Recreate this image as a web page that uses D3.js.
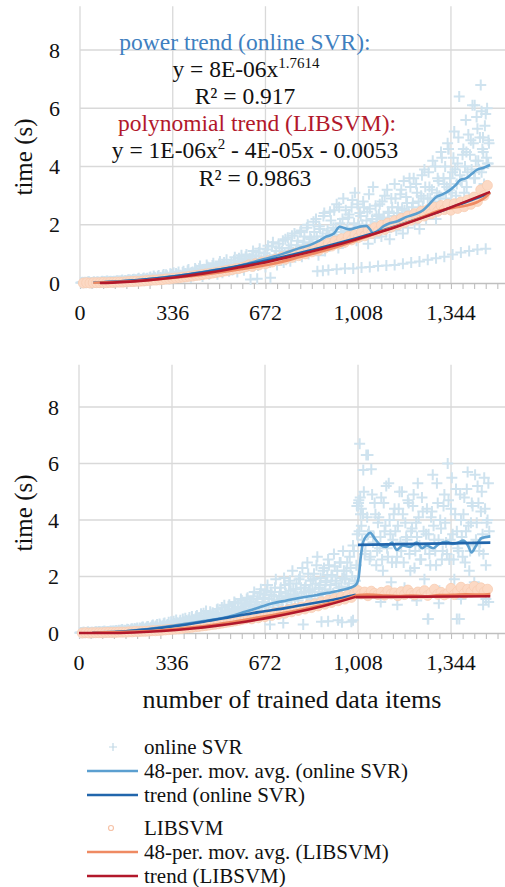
<!DOCTYPE html>
<html><head><meta charset="utf-8">
<script src="https://cdn.jsdelivr.net/npm/d3@7"></script>
<style>body{margin:0;background:#fff}svg{display:block}</style>
</head><body><svg id="c" width="505" height="887" font-family="'Liberation Serif', 'DejaVu Serif', serif"></svg>
<script>
// ---------- DATA ----------
const xTicks = [0, 336, 672, 1008, 1344];
const yTicks = [0, 2, 4, 6, 8];
const svrStep = 6;   // online SVR samples every 6 items (two interleaved arrays)
const libStep = 12;  // LIBSVM samples every 12 items

// Top chart – online SVR time (s), items 6,12,...
const svrTop = [
0.02,0.01,0.03,0.02,0.04,0.01,0.02,0.03,0.02,0.03,
0.03,0.02,0.05,0.03,0.04,0.06,0.02,0.05,0.04,0.03,
0.05,0.07,0.04,0.06,0.09,0.05,0.08,0.06,0.1,0.07,
0.08,0.12,0.07,0.1,0.14,0.09,0.11,0.15,0.08,0.13,
0.12,0.18,0.1,0.15,0.2,0.13,0.22,0.14,0.17,0.25,
0.16,0.28,0.19,0.14,0.3,0.22,0.18,0.33,0.2,0.26,
0.24,0.36,0.2,0.31,0.42,0.25,0.19,0.38,0.3,0.45,
0.28,0.5,0.33,0.22,0.47,0.36,0.55,0.3,0.42,0.6,
0.38,0.52,0.3,0.65,0.44,0.35,0.7,0.48,0.58,0.4,
0.62,0.45,0.78,0.5,0.38,0.85,0.55,0.68,0.44,0.9,
0.6,0.75,0.12,0.95,0.58,0.82,0.15,1.05,0.66,0.72,
0.9,0.55,1.15,0.7,0.18,1.25,0.8,0.95,0.62,1.35,
0.85,1.1,0.7,1.5,0.92,1.2,0.75,1.62,1.0,0.88,
1.3,1.05,1.75,0.9,1.4,1.15,1.9,1.0,1.55,1.25,
2.1,1.2,1.6,0.95,1.85,1.35,2.3,1.1,1.7,1.45,
2.45,1.3,1.9,1.55,2.7,1.2,2.05,1.65,2.9,1.4,
1.8,2.25,1.5,2.6,1.75,3.1,1.45,2.0,2.4,1.6,
2.8,1.7,2.15,1.35,2.55,1.9,3.3,1.55,2.3,1.85,
2.7,1.6,2.2,3.0,1.75,2.45,1.5,2.9,2.05,3.4,
1.8,2.6,2.2,3.2,1.7,2.5,2.95,1.9,3.6,2.3,
2.75,2.05,3.4,2.4,1.85,3.0,2.6,3.9,2.2,2.9,
3.3,2.5,4.2,2.8,2.2,3.6,3.0,4.5,2.6,3.4,
2.9,4.8,3.2,2.7,3.8,5.2,3.0,4.1,6.4,3.5,
4.4,3.1,5.6,3.8,2.9,4.9,6.1,3.6,4.2,5.3,
3.9,6.8,4.6,3.4,5.8,4.1,4.8];
// Top chart – online SVR time (s), items 3,9,15,...
const svrTopB = [
0.01,0.03,0.02,0.01,0.03,0.04,0.02,0.01,0.04,0.02,
0.04,0.03,0.02,0.06,0.04,0.03,0.07,0.04,0.06,0.05,
0.06,0.04,0.08,0.07,0.05,0.1,0.06,0.09,0.07,0.11,
0.1,0.08,0.13,0.11,0.09,0.16,0.12,0.1,0.17,0.14,
0.16,0.12,0.21,0.15,0.24,0.18,0.13,0.26,0.19,0.16,
0.29,0.21,0.25,0.17,0.32,0.24,0.35,0.21,0.28,0.38,
0.27,0.22,0.4,0.33,0.28,0.46,0.3,0.36,0.25,0.5,
0.4,0.32,0.58,0.38,0.45,0.34,0.62,0.42,0.5,0.36,
0.68,0.46,0.55,0.42,0.74,0.5,0.62,0.45,0.8,0.56,
0.52,0.7,0.48,0.88,0.6,0.75,0.52,0.95,0.65,0.8,
0.98,0.62,0.85,0.68,1.1,0.74,0.92,0.6,1.18,0.8,
0.7,1.02,0.78,1.28,0.86,0.75,1.4,0.95,1.1,0.82,
1.2,0.95,1.45,1.05,0.8,1.55,1.12,1.3,0.95,1.7,
1.15,1.45,1.0,1.8,1.25,1.6,1.1,2.0,1.35,1.5,
1.3,1.75,2.2,1.4,1.95,1.25,1.6,2.4,1.5,1.8,
1.6,2.15,1.45,2.5,1.85,1.5,2.6,1.75,2.2,1.6,
2.5,1.9,2.35,1.7,2.85,2.05,1.6,2.7,1.95,2.3,
2.0,2.6,1.8,2.45,3.05,1.95,2.2,1.7,2.65,2.1,
2.35,1.95,2.8,2.25,1.85,3.2,2.4,2.0,2.6,2.3,
2.9,2.4,2.05,3.05,2.55,3.5,2.15,2.75,2.45,3.3,
2.6,3.6,2.35,3.1,2.8,2.5,3.7,2.9,3.3,2.45,
3.8,2.9,3.2,2.7,4.0,3.1,3.5,2.9,4.3,3.6,
4.0,3.3,4.6,3.6,3.1,4.3,3.9,3.4,5.0,3.7,
3.5,4.6,4.0,3.3,5.1,4.4,3.9,4.8,3.6,5.7,
4.2,5.0,3.8,4.5,5.4,4.3,4.1];
// extra online SVR points (item, time): low band and high outliers
const svrTopExtraX = [860,880,900,930,960,990,1020,1050,1080,1110,1140,1170,1200,1230,1260,1290,1320,1350,1380,1410,1440,1470,1430,1460,1475,1480,1455,1400,1335];
const svrTopExtraY = [0.4,0.42,0.45,0.47,0.5,0.5,0.53,0.55,0.58,0.6,0.62,0.66,0.7,0.74,0.8,0.85,0.9,0.98,1.05,1.1,1.15,1.18,6.1,5.0,6.0,4.9,5.9,4.5,4.6];

// Top chart – LIBSVM time (s), items 12,24,...
const libTop = [
0.0,0.01,0.0,0.01,0.01,0.01,0.02,0.01,0.02,0.02,
0.03,0.03,0.03,0.04,0.05,0.05,0.06,0.06,0.07,0.08,
0.09,0.1,0.1,0.11,0.12,0.14,0.14,0.16,0.17,0.18,
0.2,0.21,0.23,0.24,0.26,0.27,0.29,0.31,0.32,0.34,
0.36,0.38,0.4,0.42,0.44,0.46,0.49,0.5,0.53,0.56,
0.62,0.57,0.66,0.62,0.72,0.66,0.77,0.72,0.82,0.78,
0.9,0.82,0.95,0.88,1.03,0.94,1.09,1.0,1.16,1.07,
1.22,1.12,1.3,1.2,1.37,1.27,1.44,1.34,1.52,1.4,
1.6,1.48,1.66,1.56,1.75,1.62,1.82,1.7,1.9,1.78,
1.98,1.84,2.06,1.92,2.14,2.0,2.22,2.08,2.3,2.16,
2.38,2.22,2.46,2.3,2.52,2.38,2.6,2.46,2.66,2.52,
2.7,2.5,2.72,2.56,2.78,2.62,2.85,2.7,2.95,2.8,
3.2,3.0,3.35];

// Top chart – moving averages and trend lines (item, time)
const svrTopAvgX = [48,100,200,300,400,500,560,614,680,734,790,832,860,892,920,941,960,977,1000,1038,1050,1062,1080,1100,1122,1150,1183,1210,1243,1265,1292,1315,1340,1360,1377,1400,1420,1437,1460,1486];
const svrTopAvgY = [0.02,0.03,0.09,0.19,0.31,0.46,0.55,0.69,0.85,1.0,1.18,1.3,1.42,1.59,1.7,1.93,1.88,1.84,1.9,1.96,1.85,1.71,1.8,1.95,2.05,2.12,2.27,2.35,2.5,2.7,2.96,3.05,3.19,3.35,3.53,3.6,3.75,3.88,3.95,4.05];
const libTopAvgX = [48,200,400,600,700,800,900,1000,1100,1200,1250,1300,1350,1400,1440,1470,1486];
const libTopAvgY = [0.01,0.07,0.23,0.5,0.66,0.9,1.15,1.46,1.8,2.12,2.3,2.48,2.58,2.66,2.78,2.95,3.1];
const svrTopTrendX = [72,150,250,350,450,550,650,750,850,950,1050,1150,1250,1350,1450,1486];
const svrTopTrendY = [0.015,0.055,0.134,0.242,0.377,0.537,0.721,0.927,1.156,1.406,1.678,1.969,2.28,2.61,2.96,3.09];
const libTopTrendX = [72,150,250,350,450,550,650,750,850,950,1050,1150,1250,1350,1450,1486];
const libTopTrendY = [0.0,0.03,0.1,0.2,0.33,0.49,0.67,0.88,1.11,1.36,1.64,1.94,2.27,2.62,2.99,3.13];

// Bottom chart – online SVR time (s), items 6,12,...
const svrBot = [
0.02,0.01,0.03,0.02,0.03,0.02,0.01,0.03,0.02,0.04,
0.03,0.05,0.02,0.04,0.06,0.03,0.05,0.04,0.07,0.03,
0.06,0.08,0.05,0.1,0.07,0.12,0.06,0.09,0.13,0.08,
0.11,0.15,0.09,0.13,0.18,0.1,0.16,0.2,0.12,0.17,
0.22,0.14,0.19,0.26,0.15,0.24,0.3,0.18,0.27,0.21,
0.33,0.2,0.28,0.38,0.23,0.31,0.42,0.26,0.36,0.29,
0.45,0.3,0.4,0.52,0.33,0.47,0.36,0.58,0.41,0.5,
0.62,0.38,0.55,0.44,0.7,0.48,0.6,0.4,0.75,0.52,
0.66,0.45,0.82,0.58,0.5,0.9,0.62,0.75,0.48,0.95,
0.7,0.85,0.55,1.05,0.72,0.9,0.6,1.15,0.8,0.98,
1.2,0.75,1.02,0.65,1.3,0.88,1.1,0.7,1.4,0.95,
1.25,0.8,1.5,1.05,0.3,1.35,0.9,1.6,1.15,1.0,
1.45,1.2,0.35,1.7,1.1,1.3,1.85,1.0,1.55,1.25,
1.75,1.15,2.0,1.4,0.3,1.6,1.3,2.1,1.5,1.2,
1.9,1.45,2.4,1.3,1.7,0.4,2.2,1.55,1.85,2.6,
1.5,2.05,1.4,2.35,1.75,0.45,2.5,1.65,2.9,1.9,
2.2,1.6,2.7,0.4,3.1,1.85,2.4,4.5,6.7,3.8,
4.2,2.8,6.3,3.5,2.6,5.8,3.2,4.6,2.4,3.9,
3.0,4.8,2.2,3.6,5.2,2.7,4.0,1.8,3.3,4.4,
2.5,3.8,5.0,2.9,4.2,1.6,3.4,4.7,2.8,3.6,
4.5,2.3,3.9,5.3,3.1,2.6,4.3,1.9,3.5,0.5,
2.8,4.1,5.6,3.3,2.4,4.6,1.5,3.7,2.9,4.9,
3.2,6.0,2.6,4.4,3.5,1.9,5.1,3.0,0.5,4.0,
2.7,4.8,3.6,5.7,2.2,3.9,4.5,1.8,3.3,5.2,
2.9,4.3,3.5,5.5,2.4,4.0,3.6];
// Bottom chart – online SVR time (s), items 3,9,15,...
const svrBotB = [
0.01,0.02,0.03,0.01,0.02,0.04,0.02,0.03,0.01,0.03,
0.04,0.02,0.05,0.03,0.04,0.06,0.03,0.05,0.04,0.06,
0.07,0.05,0.09,0.06,0.08,0.11,0.07,0.1,0.08,0.12,
0.09,0.14,0.11,0.16,0.12,0.1,0.18,0.14,0.21,0.13,
0.17,0.23,0.16,0.2,0.28,0.19,0.25,0.17,0.32,0.22,
0.26,0.35,0.24,0.3,0.22,0.4,0.28,0.34,0.46,0.3,
0.38,0.28,0.5,0.36,0.44,0.32,0.55,0.4,0.48,0.35,
0.58,0.44,0.5,0.68,0.42,0.56,0.78,0.5,0.62,0.46,
0.72,0.56,0.64,0.85,0.55,0.7,0.6,0.98,0.68,0.8,
1.0,0.64,0.8,1.1,0.76,0.92,0.68,1.2,0.86,1.05,
0.85,1.25,0.95,1.12,0.8,1.45,1.0,1.2,0.9,1.55,
1.1,1.35,0.95,1.7,1.2,1.45,1.05,1.3,1.9,1.15,
1.3,1.6,1.1,1.95,1.4,1.25,1.75,1.5,2.2,1.35,
1.55,1.3,1.9,1.6,2.3,1.45,1.7,2.5,1.5,1.85,
1.55,2.1,1.75,2.7,1.6,1.95,1.45,2.3,1.8,2.05,
2.4,1.7,2.0,2.8,1.85,2.2,1.6,2.5,1.95,2.2,
1.9,2.5,1.75,2.3,2.0,2.9,1.85,3.5,4.7,4.2,
3.3,5.0,2.9,4.1,3.6,2.7,4.9,3.4,4.2,2.9,
4.1,3.4,2.6,4.6,3.8,3.0,5.3,3.5,2.5,4.2,
3.6,2.7,4.4,3.2,5.0,2.5,3.9,3.3,4.6,2.2,
3.7,4.9,2.9,3.4,4.1,2.6,4.8,3.6,3.0,4.4,
3.5,2.4,4.3,3.8,2.9,5.3,3.3,4.0,2.6,4.5,
3.9,2.8,4.7,3.3,5.5,2.6,4.2,3.6,2.9,4.9,
3.4,4.2,2.5,5.1,3.8,2.9,4.6,3.1,5.6,3.9,
4.6,3.2,5.0,2.8,4.4,3.9,5.3];
const svrBotExtraX = [1004,1010,1016,1020,1027,1044,1012,1090,1150,1220,1300,1380,1460,1480,1470,1262,1365,900,950,990];
const svrBotExtraY = [4.5,4.6,4.8,4.4,5.77,6.3,3.6,1.1,1.0,1.15,1.05,1.2,1.0,1.1,1.2,0.5,0.5,0.42,0.38,0.45];

// Bottom chart – LIBSVM time (s), items 12,24,...
const libBot = [
0.0,0.01,0.0,0.01,0.01,0.01,0.01,0.02,0.02,0.02,
0.02,0.03,0.03,0.03,0.04,0.04,0.05,0.05,0.06,0.06,
0.07,0.08,0.08,0.09,0.1,0.11,0.12,0.13,0.14,0.15,
0.16,0.18,0.19,0.2,0.22,0.23,0.25,0.26,0.28,0.3,
0.31,0.33,0.35,0.37,0.39,0.41,0.43,0.45,0.48,0.5,
0.54,0.5,0.58,0.54,0.62,0.58,0.67,0.62,0.72,0.66,
0.77,0.7,0.82,0.75,0.87,0.8,0.92,0.85,0.98,0.9,
1.03,0.96,1.1,1.02,1.16,1.08,1.22,1.14,1.28,1.2,
1.34,1.26,1.42,1.5,1.38,1.45,1.32,1.48,1.4,1.36,
1.44,1.34,1.5,1.38,1.42,1.32,1.46,1.36,1.52,1.4,
1.35,1.45,1.38,1.5,1.33,1.42,1.55,1.37,1.44,1.35,
1.4,1.58,1.36,1.48,1.62,1.4,1.55,1.45,1.65,1.5,
1.6,1.45,1.55];

const svrBotAvgX = [48,150,250,350,450,550,600,650,700,750,800,850,900,950,985,1000,1010,1018,1026,1040,1052,1068,1088,1110,1130,1148,1170,1196,1220,1240,1256,1280,1300,1328,1350,1370,1388,1405,1418,1435,1455,1486];
const svrBotAvgY = [0.02,0.05,0.14,0.27,0.42,0.6,0.75,0.9,1.05,1.15,1.25,1.33,1.42,1.52,1.62,1.7,1.95,2.7,3.2,3.45,3.55,3.35,3.12,3.05,3.2,2.94,3.1,3.05,3.2,3.0,3.1,3.0,3.15,3.23,3.15,3.2,3.27,3.1,2.85,3.1,3.36,3.42];
const libBotAvgX = [48,200,300,400,500,600,700,800,900,970,1008,1040,1100,1150,1200,1250,1300,1350,1400,1450,1486];
const libBotAvgY = [0.01,0.05,0.1,0.19,0.31,0.47,0.64,0.82,1.04,1.22,1.34,1.36,1.33,1.31,1.33,1.3,1.34,1.35,1.37,1.36,1.38];
const svrBotTrendX = [130,250,350,450,550,650,750,850,950,1000];
const svrBotTrendY = [0.03,0.13,0.25,0.4,0.57,0.74,0.89,1.06,1.24,1.35];
const svrBotTrend2X = [1008,1486];
const svrBotTrend2Y = [3.12,3.2];
const libBotTrendX = [0,100,200,300,400,500,600,700,800,900,1000];
const libBotTrendY = [0.0,0.0,0.02,0.07,0.15,0.26,0.4,0.57,0.77,1.0,1.28];
const libBotTrend2X = [1000,1486];
const libBotTrend2Y = [1.27,1.3];

// ---------- STYLE ----------
const FONT = "'Liberation Serif', 'DejaVu Serif', serif";
const C = {grid:"#d9d9d9", axis:"#bfbfbf", svrPt:"#cfe3ef", libPt:"#fcd9c4",
  svrAvg:"#5b9fd0", svrTrend:"#2166ac", libAvg:"#ef8a62", libTrend:"#b2182b", text:"#111"};
const svg = d3.select("#c");
const zip = (xs, ys) => xs.map((x,i)=>[x, ys[i]]);
const seq = (vals, step, off) => vals.map((v,i)=>[off + i*step, v]);

function panel(cfg){
  const x = d3.scaleLinear().domain([0,1540]).range([cfg.left, cfg.left + 1540*cfg.kx]);
  const y = d3.scaleLinear().domain([0,9.5]).range([cfg.y0, cfg.y0 - 9.5*cfg.ky]);
  const g = svg.append("g");
  const id = "clip"+cfg.name;
  svg.append("clipPath").attr("id",id).append("rect")
    .attr("x", cfg.left-10).attr("y", y(9.5)).attr("width", 505-cfg.left+10).attr("height", cfg.y0 - y(9.5) + 8);
  g.selectAll(".hg").data(yTicks.slice(1)).join("line")
    .attr("x1", cfg.left).attr("x2", 505).attr("y1", d=>y(d)).attr("y2", d=>y(d))
    .attr("stroke", C.grid).attr("stroke-width", 1.3);
  g.selectAll(".vg").data(xTicks).join("line")
    .attr("x1", d=>x(d)).attr("x2", d=>x(d)).attr("y1", y(9.5)).attr("y2", y(0))
    .attr("stroke", C.grid).attr("stroke-width", 1.3);
  const xa = d3.axisBottom(x).tickValues(d3.range(0, 1541, 42)).tickSize(6).tickFormat("");
  const ax = g.append("g").attr("transform", `translate(0,${y(0)})`).call(xa);
  ax.select(".domain").attr("stroke", C.axis).attr("stroke-width",1.3).attr("d", `M${cfg.left},0.5H505`);
  ax.selectAll(".tick line").attr("stroke", C.axis).attr("stroke-width",1.1);
  g.selectAll(".xl").data(xTicks).join("text")
    .attr("x", d=>x(d)).attr("y", y(0)+37).attr("text-anchor","middle").attr("font-family", FONT)
    .attr("font-size", 22).attr("fill", C.text).text(d=>d3.format(",")(d));
  g.selectAll(".yl").data(yTicks).join("text")
    .attr("x", cfg.left-20).attr("y", d=>y(d)).attr("dy","0.35em").attr("text-anchor","end").attr("font-family", FONT)
    .attr("font-size", 22).attr("fill", C.text).text(d=>d);
  g.append("text").attr("transform", `translate(${cfg.titleX},${cfg.titleY}) rotate(-90)`).attr("font-family", FONT)
    .attr("text-anchor","middle").attr("dy","0.35em").attr("font-size", 25).attr("fill", C.text).text("time (s)");

  const p = g.append("g").attr("clip-path", `url(#${id})`);
  p.selectAll(".sv").data(cfg.svr).join("path")
    .attr("d", d=>`M${x(d[0])-5.5},${y(d[1])}h11M${x(d[0])},${y(d[1])-5.5}v11`)
    .attr("stroke", C.svrPt).attr("stroke-width", 2).attr("fill","none");
  p.selectAll(".lb").data(cfg.lib).join("circle")
    .attr("cx", d=>x(d[0])).attr("cy", d=>y(d[1])).attr("r", 5)
    .attr("fill", C.libPt).attr("stroke", "#f8cdb3").attr("stroke-width", 0.8);
  const line = d3.line().x(d=>x(d[0])).y(d=>y(d[1])).curve(d3.curveMonotoneX);
  const draw = (data, col, w) => p.append("path").datum(data).attr("d", line)
    .attr("fill","none").attr("stroke", col).attr("stroke-width", w).attr("stroke-linejoin","round");
  draw(cfg.svrAvg, C.svrAvg, 2.6);
  cfg.svrTrend.forEach(t => draw(t, C.svrTrend, 2.6));
  draw(cfg.libAvg, C.libAvg, 2.6);
  cfg.libTrend.forEach(t => draw(t, C.libTrend, 2.6));
  return {x,y,g};
}

const topPanel = panel({name:"t", left:80, kx:0.2760, y0:283, ky:29.125, titleX:23, titleY:157,
  svr: seq(svrTop, svrStep, 6).concat(seq(svrTopB, svrStep, 3), zip(svrTopExtraX, svrTopExtraY)),
  lib: seq(libTop, libStep, 12),
  svrAvg: zip(svrTopAvgX, svrTopAvgY), libAvg: zip(libTopAvgX, libTopAvgY),
  svrTrend: [zip(svrTopTrendX, svrTopTrendY)], libTrend: [zip(libTopTrendX, libTopTrendY)]});

const botPanel = panel({name:"b", left:79, kx:0.2768, y0:633, ky:28.25, titleX:23, titleY:513,
  svr: seq(svrBot, svrStep, 6).concat(seq(svrBotB, svrStep, 3), zip(svrBotExtraX, svrBotExtraY)),
  lib: seq(libBot, libStep, 12),
  svrAvg: zip(svrBotAvgX, svrBotAvgY), libAvg: zip(libBotAvgX, libBotAvgY),
  svrTrend: [zip(svrBotTrendX, svrBotTrendY), zip(svrBotTrend2X, svrBotTrend2Y)],
  libTrend: [zip(libBotTrendX, libBotTrendY), zip(libBotTrend2X, libBotTrend2Y)]});

svg.append("text").attr("x", 292).attr("y", 708).attr("text-anchor","middle").attr("font-family", FONT)
  .attr("font-size", 26).attr("fill", C.text).text("number of trained data items");

const ann = svg.append("g").attr("text-anchor","middle").attr("font-size", 23.5).attr("font-family", FONT);
ann.append("text").attr("x", 245).attr("y", 50).attr("fill", "#3f7fbf").text("power trend (online SVR):");
const e1 = ann.append("text").attr("x", 246).attr("y", 77).attr("fill", C.text);
e1.append("tspan").text("y = 8E-06x");
e1.append("tspan").attr("dy", -9).attr("font-size", 15).text("1.7614");
ann.append("text").attr("x", 245).attr("y", 104).attr("fill", C.text).text("R² = 0.917");
ann.append("text").attr("x", 257).attr("y", 131).attr("fill", "#b2182b").text("polynomial trend (LIBSVM):");
const e2 = ann.append("text").attr("x", 255).attr("y", 158).attr("fill", C.text);
e2.append("tspan").text("y = 1E-06x");
e2.append("tspan").attr("dy", -9).attr("font-size", 15).text("2");
e2.append("tspan").attr("dy", 9).text(" - 4E-05x - 0.0053");
ann.append("text").attr("x", 255).attr("y", 186).attr("fill", C.text).text("R² = 0.9863");

const legendLabels = ["online SVR","48-per. mov. avg. (online SVR)","trend (online SVR)","LIBSVM","48-per. mov. avg. (LIBSVM)","trend (LIBSVM)"];
const legendKinds = ["cross","line","line","circle","line","line"];
const legendColors = [C.svrPt, C.svrAvg, C.svrTrend, "#f6c3a8", C.libAvg, C.libTrend];
const legendY = [747, 771, 795, 828, 852, 876];
const lg = svg.append("g");
legendLabels.forEach((lab,i)=>{
  const yy = legendY[i];
  if (legendKinds[i]==="line") lg.append("line").attr("x1",87).attr("x2",138).attr("y1",yy).attr("y2",yy)
     .attr("stroke", legendColors[i]).attr("stroke-width", 2.6);
  else if (legendKinds[i]==="cross") lg.append("path").attr("d",`M109,${yy}h8M113,${yy-4}v8`).attr("stroke", "#c2d9e6").attr("stroke-width",1.2);
  else lg.append("circle").attr("cx",111).attr("cy",yy).attr("r",2.5).attr("fill","none").attr("stroke",legendColors[i]).attr("stroke-width",1.2);
  lg.append("text").attr("x",144).attr("y",yy).attr("dy","0.35em").attr("font-family", FONT).attr("font-size",21).attr("fill",C.text).text(lab);
});
</script></body></html>
